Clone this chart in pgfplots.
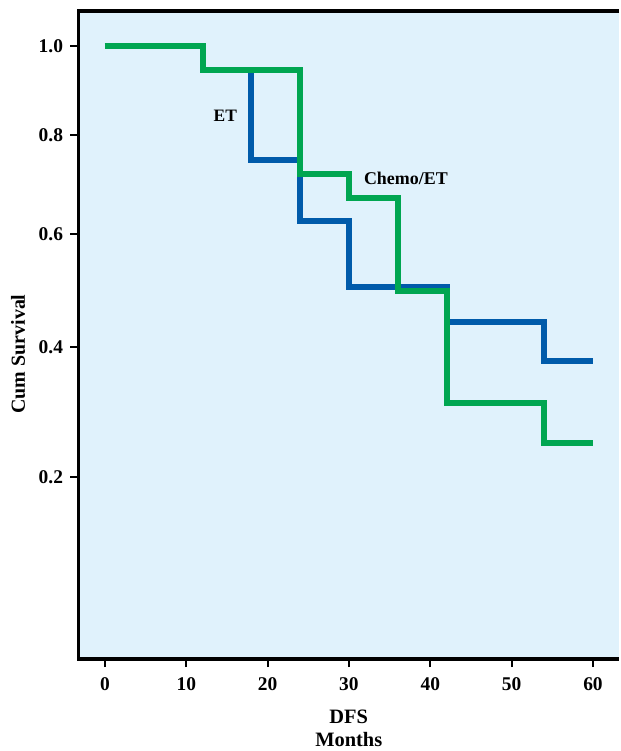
\documentclass[border=0pt]{standalone}
\usepackage{fontspec}
\setmainfont{Liberation Serif}
\usepackage{pgfplots}
\pgfplotsset{compat=1.18}
\definecolor{bgblue}{HTML}{E0F2FC}
\definecolor{etblue}{HTML}{005BAA}
\definecolor{chemogreen}{HTML}{00A651}
\begin{document}
\begin{tikzpicture}
\begin{axis}[
    name=ax,
    scale only axis,
    width=540.5bp, height=648bp,
    xmin=-3.25, xmax=63.2,
    ymin=-0.032, ymax=1.0845,
    y coord trafo/.code={\pgfmathparse{ln(#1+1)}},
    y coord inv trafo/.code={\pgfmathparse{exp(#1)-1}},
    axis background/.style={fill=bgblue},
    axis line style={draw=none},
    clip=false,
    xtick={0,10,...,60},
    ytick={0.2,0.4,0.6,0.8,1.0},
    xtick pos=bottom, ytick pos=left,
    tick align=outside,
    major tick length=8bp,
    tick style={line width=2bp, black},
    /pgf/number format/assume math mode=true,
    y tick label style={/pgf/number format/.cd, fixed, fixed zerofill, precision=1,
        /tikz/.cd, xshift=-4bp},
    x tick label style={yshift=-7bp},
    tick label style={font=\bfseries\fontsize{19.5}{22}\selectfont},
    xlabel={DFS\\Months},
    xlabel style={font=\bfseries\fontsize{20.5}{24}\selectfont, align=center,
        at={(axis description cs:0.5,-0.0725)}, anchor=north},
    ylabel={Cum Survival},
    ylabel style={font=\bfseries\fontsize{20}{24}\selectfont,
        at={(axis description cs:-0.099,0.4707)}, anchor=base},
]
% Kaplan-Meier steps
\addplot[const plot, etblue, line width=6bp] coordinates {
(0,1) (12,0.943) (18,0.747) (24,0.625) (30,0.503) (42,0.442) (54,0.377) (60,0.377)
};
\addplot[const plot, chemogreen, line width=6bp] coordinates {
(0,1) (12,0.943) (24,0.718) (30,0.670) (36,0.496) (42,0.310) (54,0.250) (60,0.250)
};
\node[font=\bfseries\fontsize{17.5}{20}\selectfont] at (axis cs:14.8,0.841) {ET};
\node[font=\bfseries\fontsize{18}{20}\selectfont] at (axis cs:37,0.709) {Chemo/ET};
% frame: top, left, bottom
\draw[line width=3.5bp, black] (rel axis cs:1,1) -- (rel axis cs:0,1) -- (rel axis cs:0,0) -- (rel axis cs:1,0);
\end{axis}
\path ([shift={(-78.5bp,-92bp)}]ax.south west) rectangle ([yshift=11bp]ax.north east);
\end{tikzpicture}
\end{document}
